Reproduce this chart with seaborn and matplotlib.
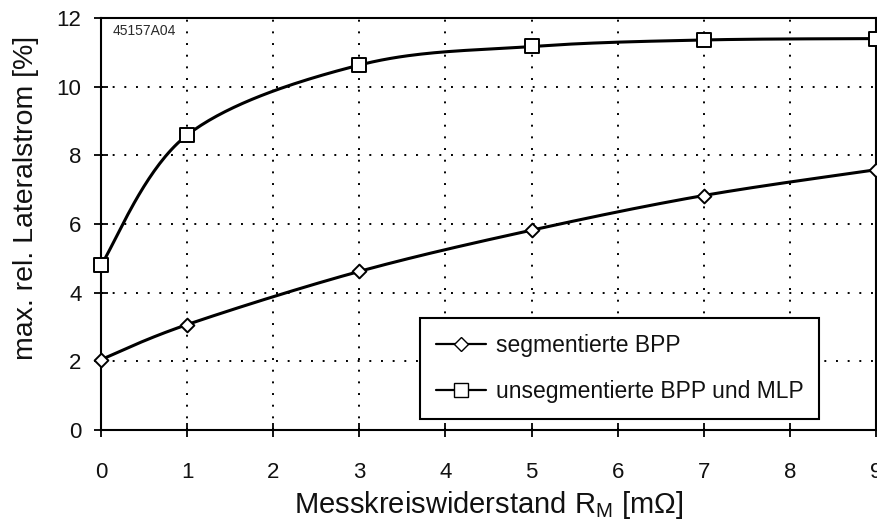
import numpy as np
import pandas as pd
import matplotlib
matplotlib.use("Agg")
import matplotlib.pyplot as plt
import seaborn as sns
from matplotlib.lines import Line2D

# Messkreiswiderstand in mOhm and max. relative lateral current in %
r_m = [0, 1, 3, 5, 7, 9]
seg_bpp = [2.05, 3.07, 4.62, 5.82, 6.83, 7.58]
unseg_bpp_mlp = [4.80, 8.59, 10.63, 11.17, 11.36, 11.40]
x_ticks = list(range(0, 10))
y_ticks = [0, 2, 4, 6, 8, 10, 12]
series_names = ["segmentierte BPP", "unsegmentierte BPP und MLP"]


def smooth_curve(xs, ys, n=40):
    """Piecewise cubic Bezier through the points (spreadsheet-style smoothing)."""
    P = np.column_stack([xs, ys]).astype(float)
    pts = [P[0]]
    t = np.linspace(0, 1, n)[1:, None]
    for i in range(len(P) - 1):
        prev = P[i - 1] if i > 0 else P[i]
        nxt = P[i + 2] if i + 2 < len(P) else P[i + 1]
        c1 = P[i] + (P[i + 1] - prev) / 6.0
        c2 = P[i + 1] - (nxt - P[i]) / 6.0
        seg = ((1 - t) ** 3) * P[i] + 3 * ((1 - t) ** 2) * t * c1 \
            + 3 * (1 - t) * t ** 2 * c2 + t ** 3 * P[i + 1]
        pts.extend(seg)
    pts = np.array(pts)
    return pd.DataFrame({"x": pts[:, 0], "y": pts[:, 1]})


sns.set_theme(style="white")
plt.rcParams["font.family"] = ["Liberation Sans", "DejaVu Sans"]
plt.rcParams["mathtext.fontset"] = "custom"
plt.rcParams["mathtext.rm"] = "Liberation Sans"
plt.rcParams["mathtext.it"] = "Liberation Sans:italic"
plt.rcParams["mathtext.bf"] = "Liberation Sans:bold"

fig = plt.figure(figsize=(8.77, 5.24), dpi=100)
ax = fig.add_axes([101 / 877, 1 - 430 / 524, 775 / 877, 412 / 524])

markers = ["D", "s"]
msizes = [7.0, 10.5]
for vals, name, mk, ms in zip([seg_bpp, unseg_bpp_mlp], series_names, markers, msizes):
    curve = smooth_curve(r_m, vals)
    sns.lineplot(data=curve, x="x", y="y", ax=ax, color="black", lw=2.2,
                 sort=False, estimator=None, legend=False, zorder=3)
    pts = pd.DataFrame({"x": r_m, "y": vals})
    sns.scatterplot(data=pts, x="x", y="y", ax=ax, marker=mk, s=ms ** 2,
                    facecolor="white", edgecolor="black", linewidth=1.4,
                    legend=False, zorder=4, clip_on=False)

ax.set_xlim(0, 9)
ax.set_ylim(0, 12)
ax.set_xticks(x_ticks)
ax.set_yticks(y_ticks)
ax.grid(True, color="black", linestyle=(0, (1, 5)), linewidth=1.4)
ax.set_axisbelow(True)
for sp in ax.spines.values():
    sp.set_color("black")
    sp.set_linewidth(1.5)

ax.tick_params(axis="x", direction="inout", length=10, width=1.3, pad=18,
               labelsize=16, bottom=True)
ax.tick_params(axis="y", direction="inout", length=10, width=1.3, pad=9,
               labelsize=16, left=True)
ax.tick_params(colors="black", which="both", labelcolor="#111111")

ax.set_xlabel(r"Messkreiswiderstand R$_\mathregular{M}$ [m$\mathregular{\Omega}$]",
              fontsize=21, color="#111111")
ax.set_ylabel("max. rel. Lateralstrom [%]", fontsize=20.5, color="#111111")
ax.xaxis.set_label_coords(0.5, -0.143)
ax.yaxis.set_label_coords(-0.080, 0.563)

ax.text(0.0145, 0.985, "45157A04", transform=ax.transAxes, fontsize=10,
        va="top", ha="left", color="#2a2a2a")

handles = [
    Line2D([], [], color="black", lw=1.6, marker="D", markersize=7,
           markerfacecolor="white", markeredgecolor="black"),
    Line2D([], [], color="black", lw=1.6, marker="s", markersize=10,
           markerfacecolor="white", markeredgecolor="black"),
]
leg = ax.legend(handles, series_names, loc="upper left",
                bbox_to_anchor=(420 / 877, 1 - 318 / 524), bbox_transform=fig.transFigure,
                fontsize=16.5, frameon=True, fancybox=False, framealpha=1,
                edgecolor="black", handlelength=2.2, handletextpad=0.4,
                borderpad=0.7, labelspacing=1.0, borderaxespad=0)
leg.get_frame().set_linewidth(1.5)
for txt in leg.get_texts():
    txt.set_color("#111111")

fig.savefig("out.png", dpi=100)
